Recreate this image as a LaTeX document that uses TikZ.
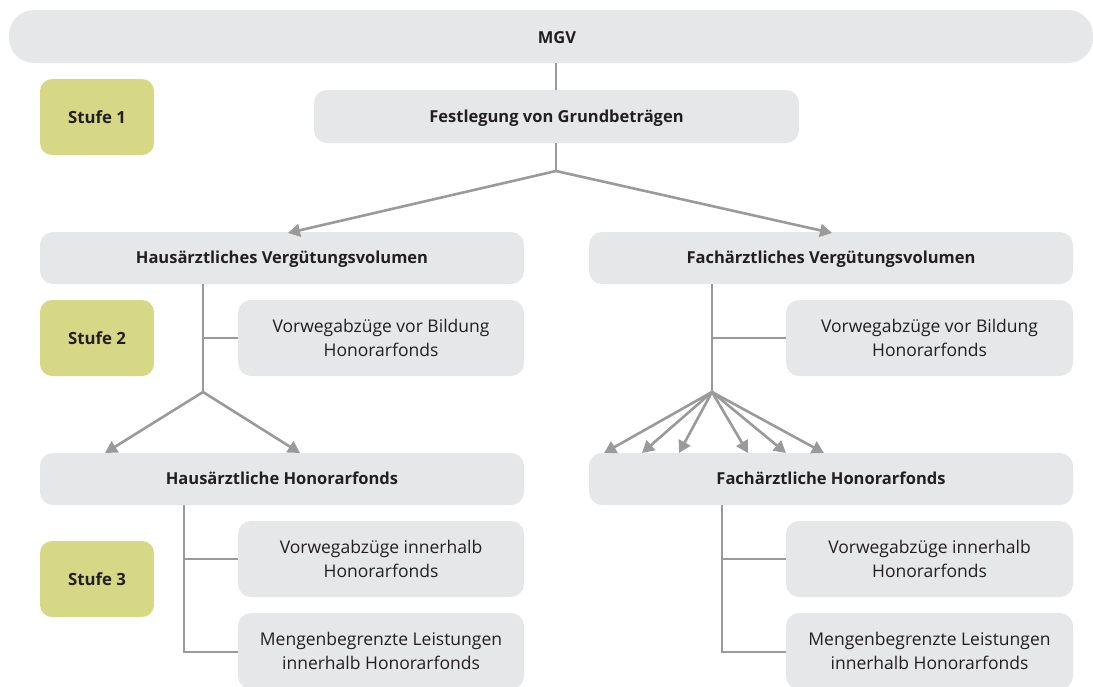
\documentclass[tikz,border=0pt]{standalone}
\usepackage{fontspec}
\setmainfont{Open Sans}
\usetikzlibrary{arrows.meta}
\definecolor{boxgray}{HTML}{E6E7E8}
\definecolor{stufegreen}{HTML}{D7D886}
\definecolor{linegray}{HTML}{9A9A9A}
\definecolor{txt}{HTML}{231F20}
\tikzset{
  box/.style={fill=boxgray, rounded corners=13pt, inner sep=0pt, text=txt, align=center,
    font=\fontsize{17.5}{24}\selectfont},
  boldbox/.style={box, font=\fontsize{16.5}{22}\selectfont\bfseries, text height=15pt, text depth=3.2pt},
  stufebox/.style={fill=stufegreen, rounded corners=12pt, inner sep=0pt, text=txt,
    minimum width=114pt, minimum height=76pt, font=\fontsize{16.8}{22}\selectfont\bfseries},
  conn/.style={draw=linegray, line width=2.6pt},
  arr/.style={conn, -{Triangle[length=12pt,width=13pt]}},
}
\begin{document}
\begin{tikzpicture}[x=1pt,y=-1pt]
\useasboundingbox (0,0) rectangle (1093,686);
% top bar
\node[boldbox, rounded corners=25pt, minimum width=1084pt, minimum height=53pt] (mgv) at (551,36.5) {};
\node[text=txt, font=\fontsize{16.5}{22}\selectfont\bfseries] (mgvt) at (557,38) {MGV};
% Stufen
\node[stufebox] (s1) at (97,117) {Stufe 1};
\node[stufebox] (s2) at (97,338) {Stufe 2};
\node[stufebox] (s3) at (97,579) {Stufe 3};
% level 1
\node[boldbox, minimum width=485pt, minimum height=53pt] (fest) at (556.5,116.5) {Festlegung von Grundbeträgen};
% level 2
\node[boldbox, minimum width=484pt, minimum height=52pt] (haus) at (282,258) {Hausärztliches Vergütungsvolumen};
\node[boldbox, minimum width=484pt, minimum height=52pt] (fach) at (831,258) {Fachärztliches Vergütungsvolumen};
\node[box, minimum width=286pt, minimum height=76pt] (hvor) at (381,338) {Vorwegabzüge vor Bildung\\Honorarfonds};
\node[box, minimum width=287pt, minimum height=76pt] (fvor) at (929.5,338) {Vorwegabzüge vor Bildung\\Honorarfonds};
% level 3
\node[boldbox, minimum width=484pt, minimum height=52pt] (hhon) at (282,479) {Hausärztliche Honorarfonds};
\node[boldbox, minimum width=484pt, minimum height=52pt] (fhon) at (831,479) {Fachärztliche Honorarfonds};
\node[box, minimum width=286pt, minimum height=76pt] (hinn) at (381,559) {Vorwegabzüge innerhalb\\Honorarfonds};
\node[box, minimum width=286pt, minimum height=76pt] (hmen) at (381,651) {Mengenbegrenzte Leistungen\\innerhalb Honorarfonds};
\node[box, minimum width=287pt, minimum height=76pt] (finn) at (929.5,559) {Vorwegabzüge innerhalb\\Honorarfonds};
\node[box, minimum width=287pt, minimum height=76pt] (fmen) at (929.5,651) {Mengenbegrenzte Leistungen\\innerhalb Honorarfonds};
% connectors level 1
\draw[conn] (mgv.south -| 556,0) -- (fest.north -| 556,0);
\coordinate (j1) at (556,171);
\draw[conn] (fest.south -| 556,0) -- (j1);
\coordinate (t1) at (288,233);
\coordinate (t2) at (832,233);
\draw[arr] (j1) -- (t1);
\draw[arr] (j1) -- (t2);
% connectors level 2 left
\coordinate (hb) at (203,392);
\draw[conn] (haus.south -| 203,0) -- (hb);
\draw[conn] (203,338) -- (hvor.west);
\foreach \x/\n in {105/ha,300/hb2} {
  \coordinate (\n) at (\x,453);
  \draw[arr] (hb) -- (\n);
}
% connectors level 2 right
\coordinate (fb) at (712,392);
\draw[conn] (fach.south -| 712,0) -- (fb);
\draw[conn] (712,338) -- (fvor.west);
\foreach \x/\n in {604/fa1,642/fa2,679/fa3,748/fa4,786/fa5,824/fa6} {
  \coordinate (\n) at (\x,453);
  \draw[arr] (fb) -- (\n);
}
% connectors level 3
\draw[conn] (hhon.south -| 184,0) -- (184,652) -- (hmen.west |- 0,652);
\draw[conn] (184,559) -- (hinn.west);
\draw[conn] (fhon.south -| 722,0) -- (722,652) -- (fmen.west |- 0,652);
\draw[conn] (722,559) -- (finn.west);
\end{tikzpicture}
\end{document}
